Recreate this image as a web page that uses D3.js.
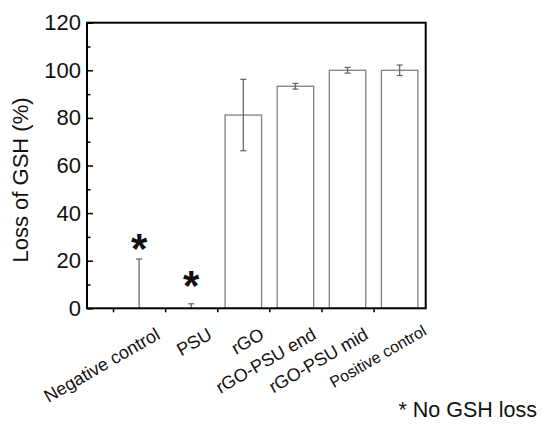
<!DOCTYPE html>
<html>
<head>
<meta charset="utf-8">
<script src="https://cdn.jsdelivr.net/npm/d3@7"></script>
<style>
  html, body { margin: 0; padding: 0; background: #fff; }
  svg { display: block; font-family: Arial, "Liberation Sans", Helvetica, sans-serif; }
</style>
</head>
<body>
<svg id="chart" width="543" height="425"></svg>
<script>
// ---- data ----
const categories = ["Negative control", "PSU", "rGO", "rGO-PSU end", "rGO-PSU mid", "Positive control"];
const lossValues = [0, 0, 81.2, 93.3, 100, 100];
const errUpper = [20.7, 1.9, 15.0, 1.2, 1.2, 2.2];
const errLower = [0, 0, 15.0, 1.2, 1.2, 2.2];
const noLossFlags = [true, true, false, false, false, false];
const asteriskLevel = [29.5, 14];   // y (in %) of the "*" marks for the flagged bars
const yMajorTicks = [0, 20, 40, 60, 80, 100, 120];
const yMinorTicks = [10, 30, 50, 70, 90, 110];
const yTitle = "Loss of GSH (%)";
const footnote = "* No GSH loss";

// ---- layout ----
const W = 543, H = 425;
const plotL = 87, plotR = 425.7, plotT = 22.7, plotB = 308.3;
const svg = d3.select("#chart");

const x = d3.scaleLinear().domain([0, categories.length + 0.5]).range([plotL, plotR]);
const y = d3.scaleLinear().domain([0, 120]).range([plotB, plotT]);
const band = x(1) - x(0);
const barW = band * 0.7;

// bars
svg.append("g").selectAll("rect")
  .data(categories.map((c, i) => ({c, i, v: lossValues[i]})).filter(d => d.v > 0))
  .join("rect")
  .attr("x", d => x(d.i + 1) - barW / 2)
  .attr("y", d => y(d.v))
  .attr("width", barW)
  .attr("height", d => y(0) - y(d.v))
  .attr("fill", "#fff")
  .attr("stroke", "#808080")
  .attr("stroke-width", 1.3);

// error bars
const errColor = "#6a6a6a";
const capW = 6;
const eg = svg.append("g").attr("stroke", errColor).attr("stroke-width", 1.3).attr("fill", "none");
categories.forEach((c, i) => {
  const cx = x(i + 1);
  const v = lossValues[i];
  const hi = v + errUpper[i];
  const lo = Math.max(0, v - errLower[i]);
  eg.append("line").attr("x1", cx).attr("x2", cx).attr("y1", y(lo)).attr("y2", y(hi));
  eg.append("line").attr("x1", cx - capW / 2).attr("x2", cx + capW / 2).attr("y1", y(hi)).attr("y2", y(hi));
  if (errLower[i] > 0) {
    eg.append("line").attr("x1", cx - capW / 2).attr("x2", cx + capW / 2).attr("y1", y(lo)).attr("y2", y(lo));
  }
});

// asterisks
const flagged = categories.map((c, i) => i).filter(i => noLossFlags[i]);
svg.append("g").selectAll("text")
  .data(flagged)
  .join("text")
  .attr("x", i => x(i + 1))
  .attr("y", (i, k) => y(asteriskLevel[k]))
  .attr("dy", "0.6em")
  .attr("text-anchor", "middle")
  .attr("font-size", 42)
  .attr("font-weight", "bold")
  .attr("fill", "#111")
  .text("*");

// y axis major
const yAxis = svg.append("g")
  .attr("transform", `translate(${plotL},0)`)
  .call(d3.axisLeft(y).tickValues(yMajorTicks).tickSize(-6).tickPadding(6).tickFormat(d3.format("d")));
yAxis.select(".domain").remove();
yAxis.selectAll("line").attr("stroke", "#000").attr("stroke-width", 1.5);
yAxis.selectAll("text").attr("font-size", 22).attr("fill", "#111").attr("font-family", "Arial, 'Liberation Sans', sans-serif");

// y axis minor
const yMinor = svg.append("g")
  .attr("transform", `translate(${plotL},0)`)
  .call(d3.axisLeft(y).tickValues(yMinorTicks).tickSize(-3.5).tickFormat(""));
yMinor.select(".domain").remove();
yMinor.selectAll("line").attr("stroke", "#000").attr("stroke-width", 1.5);

// x axis ticks (between categories)
const xTickVals = d3.range(categories.length).map(i => i + 0.5);
const xAxis = svg.append("g")
  .attr("transform", `translate(0,${plotB})`)
  .call(d3.axisBottom(x).tickValues(xTickVals).tickSize(4).tickFormat(""));
xAxis.select(".domain").remove();
xAxis.selectAll("line").attr("stroke", "#000").attr("stroke-width", 1.5);

// frame
svg.append("rect")
  .attr("x", plotL).attr("y", plotT)
  .attr("width", plotR - plotL).attr("height", plotB - plotT)
  .attr("fill", "none").attr("stroke", "#000").attr("stroke-width", 2);

// category labels
const labelG = svg.append("g");
categories.forEach((c, i) => {
  const last = i === categories.length - 1;
  const ax = x(i + 1) + (last ? 28 : 22);
  const ay = last ? 334 : 338;
  labelG.append("text")
    .attr("transform", `translate(${ax},${ay}) rotate(-30)`)
    .attr("text-anchor", "end")
    .attr("font-size", last ? 16 : 18)
    .attr("fill", "#111")
    .text(c);
});

// y title
svg.append("text")
  .attr("transform", `translate(28,${180}) rotate(-90)`)
  .attr("text-anchor", "middle")
  .attr("font-size", 22)
  .attr("fill", "#111")
  .text(yTitle);

// footnote
svg.append("text")
  .attr("x", 537).attr("y", 417)
  .attr("text-anchor", "end")
  .attr("font-size", 21.5)
  .attr("fill", "#111")
  .text(footnote);
</script>
</body>
</html>
